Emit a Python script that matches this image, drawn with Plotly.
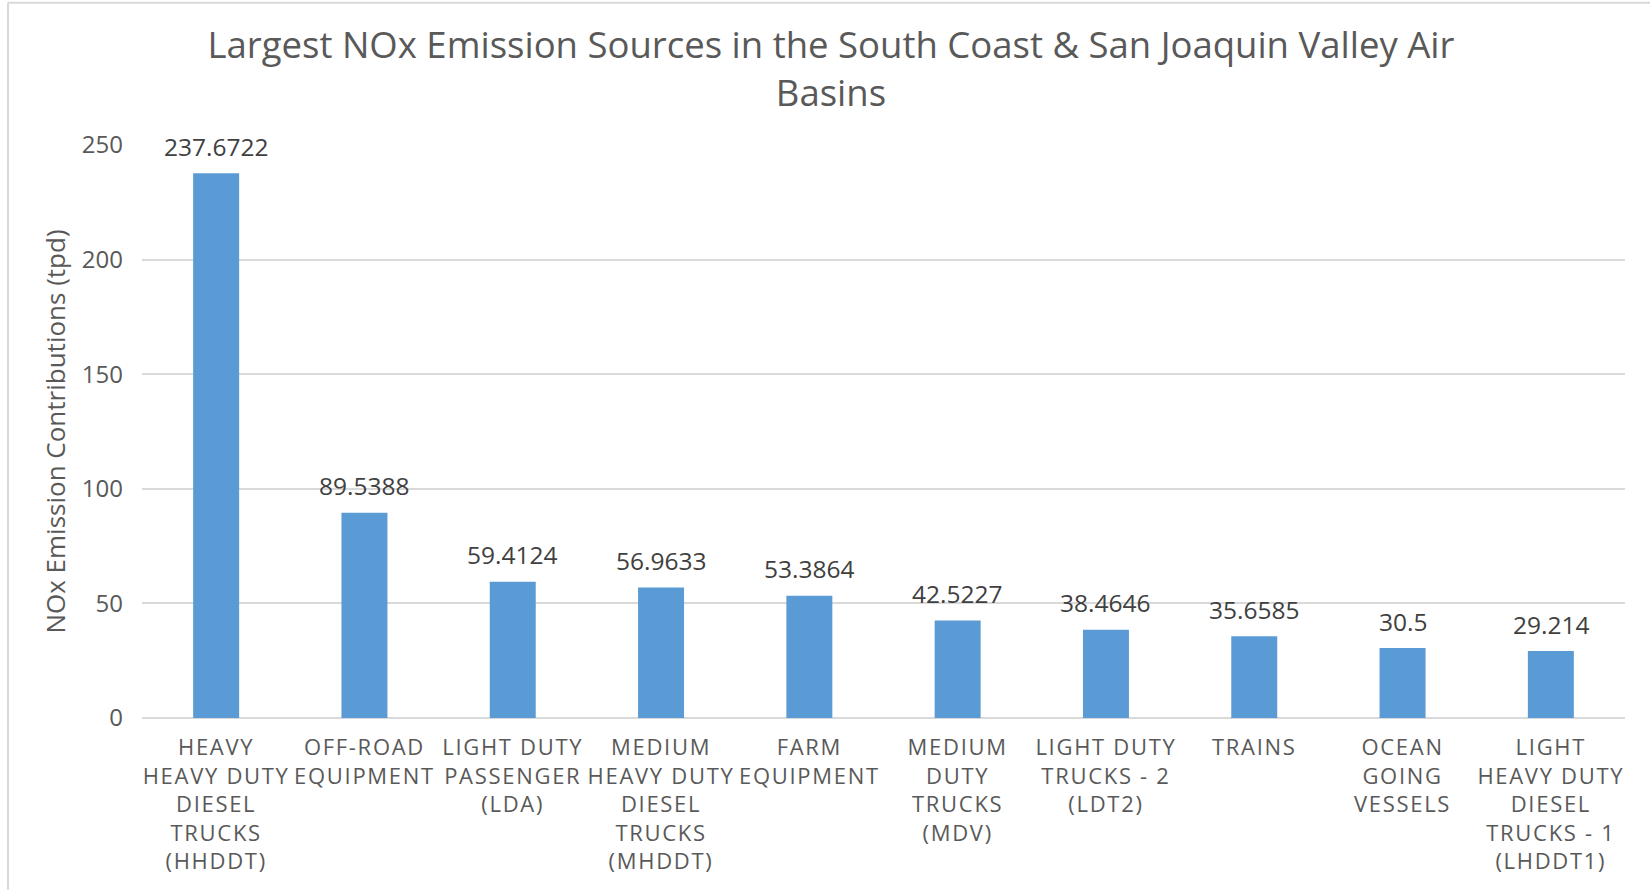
import plotly.graph_objects as go

categories = [
    "HEAVY<br>HEAVY DUTY<br>DIESEL<br>TRUCKS<br>(HHDDT)",
    "OFF-ROAD<br>EQUIPMENT",
    "LIGHT DUTY<br>PASSENGER<br>(LDA)",
    "MEDIUM<br>HEAVY DUTY<br>DIESEL<br>TRUCKS<br>(MHDDT)",
    "FARM<br>EQUIPMENT",
    "MEDIUM<br>DUTY<br>TRUCKS<br>(MDV)",
    "LIGHT DUTY<br>TRUCKS - 2<br>(LDT2)",
    "TRAINS",
    "OCEAN<br>GOING<br>VESSELS",
    "LIGHT<br>HEAVY DUTY<br>DIESEL<br>TRUCKS - 1<br>(LHDDT1)",
]
values = [237.6722, 89.5388, 59.4124, 56.9633, 53.3864, 42.5227, 38.4646, 35.6585, 30.5, 29.214]
value_labels = ["237.6722", "89.5388", "59.4124", "56.9633", "53.3864", "42.5227",
                "38.4646", "35.6585", "30.5", "29.214"]
y_ticks = [0, 50, 100, 150, 200, 250]

FONT = "Open Sans"
GRAY = "#595959"


def spaced(label, px=1.7):
    return "<br>".join(
        f"<span style='letter-spacing:{px}px'>{line}</span>" for line in label.split("<br>")
    )


fig = go.Figure()
fig.add_trace(go.Bar(
    x=categories, y=values,
    marker=dict(color="#5B9BD5", line=dict(width=0)),
    width=0.31,
    hoverinfo="y",
))

for c, v, t in zip(categories, values, value_labels):
    fig.add_annotation(x=c, y=v, text=t, showarrow=False, yanchor="middle",
                       yshift=27, font=dict(family=FONT, size=24.5, color="#404040"))

fig.update_layout(
    width=1650, height=890,
    margin=dict(l=142, r=25, t=145, b=172),
    paper_bgcolor="white", plot_bgcolor="white",
    showlegend=False,
    bargap=0.69,
    title=dict(
        text="Largest NOx Emission Sources in the South Coast & San Joaquin Valley Air<br>Basins",
        x=0.5036, xanchor="center", y=0.9345, yanchor="middle",
        font=dict(family=FONT, size=36.5, color=GRAY),
    ),
    xaxis=dict(
        tickmode="array", tickvals=categories, ticktext=[spaced(c) for c in categories],
        tickfont=dict(family=FONT, size=22, color=GRAY),
        showgrid=False, showline=False, ticks="", tickangle=0,
        ticklabelstandoff=14,
    ),
    yaxis=dict(
        range=[0, 250], tickvals=y_ticks,
        tickfont=dict(family=FONT, size=24, color=GRAY),
        showgrid=True, gridcolor="#D9D9D9", gridwidth=2,
        zeroline=True, zerolinecolor="#D9D9D9", zerolinewidth=2,
        showline=False, ticks="", ticklabelstandoff=18,
        title=dict(text="NOx Emission Contributions (tpd)", standoff=8,
                   font=dict(family=FONT, size=26, color=GRAY)),
    ),
)

# chart border (left and top edges visible)
fig.add_shape(type="line", xref="paper", yref="paper",
              x0=(8 - 142) / 1483, x1=(8 - 142) / 1483, y0=(717.7 - 890) / 572.5, y1=(717.7 - 3) / 572.5,
              line=dict(color="#D9D9D9", width=2))
fig.add_shape(type="line", xref="paper", yref="paper",
              x0=(8 - 142) / 1483, x1=(1650 - 142) / 1483, y0=(717.7 - 3) / 572.5, y1=(717.7 - 3) / 572.5,
              line=dict(color="#D9D9D9", width=2))

fig.write_html("out.html")
